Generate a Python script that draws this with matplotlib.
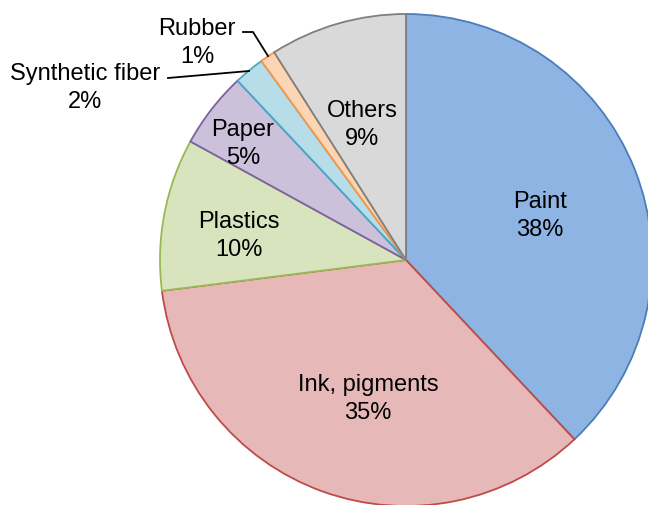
import matplotlib.pyplot as plt

plt.rcParams['font.family'] = ['Liberation Sans', 'DejaVu Sans']

# share of each source, clockwise from 12 o'clock
categories = ['Paint', 'Ink, pigments', 'Plastics', 'Paper',
              'Synthetic fiber', 'Rubber', 'Others']
shares = [38, 35, 10, 5, 2, 1, 9]

fills = ['#8EB4E3', '#E6B9B8', '#D7E4BD', '#CCC1DA', '#B7DEE8', '#FCD5B5', '#D9D9D9']
edges = ['#4A7EBB', '#BE4B48', '#98B954', '#7D60A0', '#46AAC5', '#F79646', '#7F7F7F']

W, H = 648, 506
fig = plt.figure(figsize=(W / 100, H / 100), dpi=100)
ax = fig.add_axes([0, 0, 1, 1])
ax.axis('off')

cx, cy, r = 406, H - 261, 246
wedges, _ = ax.pie(shares, startangle=90, counterclock=False,
                   center=(cx, cy), radius=r, colors=fills,
                   wedgeprops=dict(linewidth=1.3))
for w, ec in zip(wedges, edges):
    w.set_edgecolor(ec)
ax.set_xlim(0, W)
ax.set_ylim(0, H)
ax.set_aspect('equal')

fs = 17
ls = 1.32
inside = {'Paint': (540, 216), 'Ink, pigments': (368, 399),
          'Plastics': (239, 236), 'Paper': (243, 144), 'Others': (362, 125)}
for name, pct in zip(categories, shares):
    if name in inside:
        x, y = inside[name]
        ax.text(x, H - y, f'{name}\n{pct}%', ha='center', va='center',
                fontsize=fs, linespacing=ls)

# small slices get outside labels with leader lines
ax.text(197, H - 43, f'{categories[5]}\n{shares[5]}%', ha='center', va='center',
        fontsize=fs, linespacing=ls)
ax.plot([243, 253, 268], [H - 33, H - 33, H - 57], color='black', lw=1.3)

ax.text(85, H - 88, f'{categories[4]}\n{shares[4]}%', ha='center', va='center',
        fontsize=fs, linespacing=ls)
ax.plot([168, 249], [H - 79, H - 72], color='black', lw=1.3)

fig.savefig('out.png', dpi=100)
